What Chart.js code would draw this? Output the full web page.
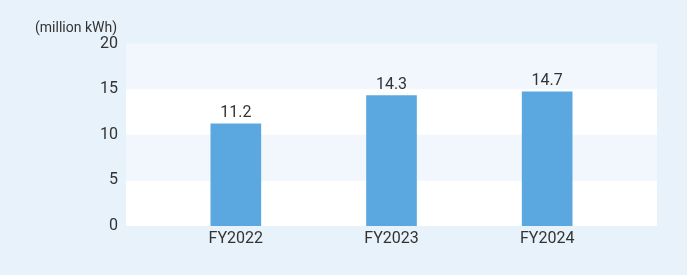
<!DOCTYPE html>
<html>
<head>
<meta charset="utf-8">
<script src="https://cdn.jsdelivr.net/npm/chart.js@4/dist/chart.umd.min.js"></script>
<style>
  html, body { margin: 0; padding: 0; background: #e8f2fa; }
  #wrap { width: 687px; height: 275px; position: relative; }
</style>
</head>
<body>
<div id="wrap"><canvas id="energyChart"></canvas></div>
<script>
    const categories = ['FY2022', 'FY2023', 'FY2024'];
    const values = [11.2, 14.3, 14.7];
    const yTicks = [0, 5, 10, 15, 20];
    const unitLabel = '(million kWh)';

    const textColor = '#333333';
    const fontFamily = 'Roboto, "Noto Sans", sans-serif';

    // page background + striped plot area, a bit wider than the chart area
    const bandsPlugin = {
        id: 'bands',
        beforeDraw(chart) {
            const { ctx, chartArea, scales } = chart;
            const y = scales.y;
            const left = chartArea.left - 32;
            const right = chartArea.right + 32;
            ctx.save();
            ctx.fillStyle = '#e8f2fa';
            ctx.fillRect(0, 0, chart.width, chart.height);
            for (let i = 0; i < yTicks.length - 1; i++) {
                const top = y.getPixelForValue(yTicks[i + 1]);
                const bottom = y.getPixelForValue(yTicks[i]);
                ctx.fillStyle = i % 2 === 0 ? '#ffffff' : '#f1f7fc';
                ctx.fillRect(left, top, right - left, bottom - top);
            }
            ctx.restore();
        }
    };

    const labelsPlugin = {
        id: 'valueLabels',
        afterDatasetsDraw(chart) {
            const { ctx } = chart;
            const meta = chart.getDatasetMeta(0);
            ctx.save();
            ctx.fillStyle = textColor;
            ctx.font = '16px ' + fontFamily;
            ctx.textAlign = 'center';
            ctx.textBaseline = 'alphabetic';
            meta.data.forEach((bar, i) => {
                ctx.fillText(values[i].toFixed(1), bar.x, bar.y - 7);
            });
            // unit label above the y axis
            ctx.font = '14px ' + fontFamily;
            ctx.textAlign = 'right';
            ctx.textBaseline = 'middle';
            ctx.fillText(unitLabel, chart.chartArea.left - 41, 28);
            ctx.restore();
        }
    };

    const ctx = document.getElementById('energyChart').getContext('2d');
    new Chart(ctx, {
        type: 'bar',
        data: {
            labels: categories,
            datasets: [{
                data: values,
                backgroundColor: '#5aa8df',
                borderWidth: 0,
                barThickness: 50
            }]
        },
        options: {
            responsive: true,
            maintainAspectRatio: false,
            animation: false,
            layout: {
                padding: { top: 43.5, right: 62, bottom: 0, left: 0 }
            },
            plugins: {
                legend: { display: false },
                tooltip: { enabled: false }
            },
            scales: {
                x: {
                    grid: { display: false, drawTicks: false },
                    border: { display: false },
                    ticks: {
                        color: textColor,
                        font: { family: fontFamily, size: 16 },
                        padding: 3
                    },
                    afterFit(scale) { scale.height = 49; }
                },
                y: {
                    min: 0,
                    max: 20,
                    grid: { display: false, drawTicks: false },
                    border: { display: false },
                    ticks: {
                        stepSize: 5,
                        color: textColor,
                        font: { family: fontFamily, size: 16 },
                        padding: 40
                    },
                    afterFit(scale) {
                        // tick padding also pads the axis ends; undo that
                        scale.width = 158;
                        scale.paddingTop = 0;
                        scale.paddingBottom = 0;
                    }
                }
            }
        },
        plugins: [bandsPlugin, labelsPlugin]
    });
</script>
</body>
</html>
